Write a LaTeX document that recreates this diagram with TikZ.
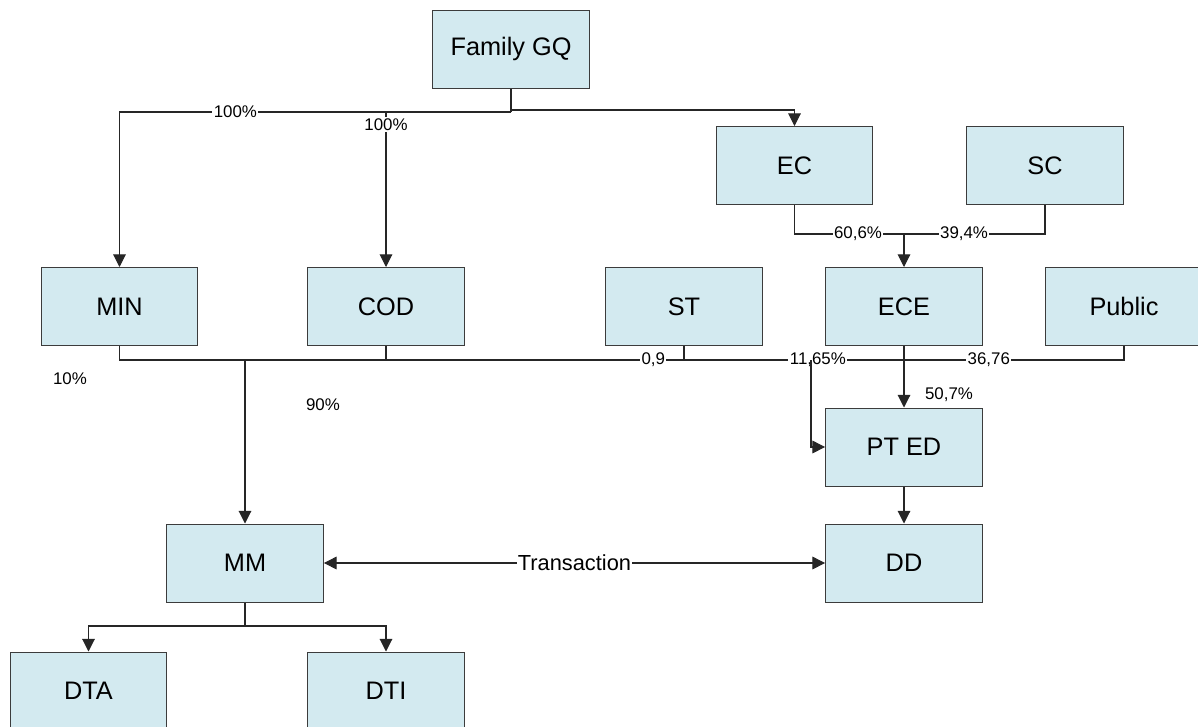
\documentclass[tikz,border=0pt]{standalone}
\usepackage{fontspec}
\setmainfont{Liberation Sans}
\usetikzlibrary{arrows.meta,calc}
\definecolor{paleblue}{HTML}{D3EAF0}
\definecolor{boxedge}{HTML}{3C3C3C}
\definecolor{wire}{HTML}{262626}
\tikzset{
  entbox/.style={rectangle, draw=boxedge, fill=paleblue, line width=0.7pt,
    minimum width=3.92cm, minimum height=1.95cm, inner sep=2pt,
    font=\fontsize{18}{21}\selectfont},
  link/.style={draw=wire, line width=0.75pt},
  arr/.style={link, -{Triangle[length=9pt,width=9pt]}},
  pct/.style={fill=white, inner sep=1pt, font=\fontsize{12}{14}\selectfont},
  note/.style={inner sep=0pt, font=\fontsize{12}{14}\selectfont},
}
\begin{document}
\begin{tikzpicture}[x=0.025cm, y=-0.025cm]
  \useasboundingbox (0,0) rectangle (1198,726);
  % boxes
  \node[entbox] (fam)  at (511,49)     {Family GQ};
  \node[entbox] (ec)   at (794.5,165.5) {EC};
  \node[entbox] (sc)   at (1045,165.5) {SC};
  \node[entbox] (min)  at (119.5,306.5) {MIN};
  \node[entbox] (cod)  at (386,306.5)  {COD};
  \node[entbox] (st)   at (684,306.5)  {ST};
  \node[entbox] (ece)  at (904,306.5)  {ECE};
  \node[entbox] (pub)  at (1124,306.5) {Public};
  \node[entbox] (pted) at (904,447)    {PT ED};
  \node[entbox] (mm)   at (245,563)    {MM};
  \node[entbox] (dd)   at (904,563)    {DD};
  \node[entbox] (dta)  at (88.5,691)   {DTA};
  \node[entbox] (dti)  at (386,691)    {DTI};
  % junctions
  \coordinate (famsplit) at (511,112);
  \coordinate (famec)    at (511,110);
  \coordinate (ecsplit)  at (904,234);
  \coordinate (mmjoin)   at (245,360);
  \coordinate (stdrop)   at (811,360);
  \coordinate (mmsplit)  at (245,626);
  % Family GQ
  \draw[link] (fam.south) -- (famsplit);
  \draw[arr] (famsplit) -| node[pct, pos=0.352] {100\%} (min.north);
  \draw[arr] (famsplit) -| node[pct, pos=0.54] {100\%} (cod.north);
  \draw[arr] (famec) -| (ec.north);
  % EC and SC into ECE
  \draw[link] (ec.south) |- node[pct, pos=0.79] {60,6\%} (ecsplit);
  \draw[link] (sc.south) |- node[pct, pos=0.787] {39,4\%} (ecsplit);
  \draw[arr] (ecsplit) -- (ece.north);
  % into MM
  \draw[link] (min.south) |- (mmjoin);
  \draw[link] (cod.south) |- (mmjoin);
  \draw[link] (st.south) |- node[pct, pos=0.535] {0,9} (mmjoin);
  \draw[arr] (mmjoin) -- (mm.north);
  \node[note] (n10) at (70,379) {10\%};
  \node[note] (n90) at (323,405) {90\%};
  % into PT ED
  \draw[link] (st.south) |- (stdrop);
  \draw[link] (pub.south) |- node[pct, pos=0.716] {36,76}
    node[pct, pos=0.989] {11,65\%} (stdrop);
  \draw[arr] (stdrop) |- (pted.west);
  \draw[arr] (ece.south) -- (pted.north);
  \node[note] (n507) at (949,395) {50,7\%};
  \draw[arr] (pted.south) -- (dd.north);
  % transaction
  \draw[link, {Triangle[length=9pt,width=9pt]}-{Triangle[length=9pt,width=9pt]}]
    (mm.east) -- node[pct, font=\fontsize{15.5}{18}\selectfont] {Transaction} (dd.west);
  % MM down
  \draw[link] (mm.south) -- (mmsplit);
  \draw[arr] (mmsplit) -| (dta.north);
  \draw[arr] (mmsplit) -| (dti.north);
\end{tikzpicture}
\end{document}
